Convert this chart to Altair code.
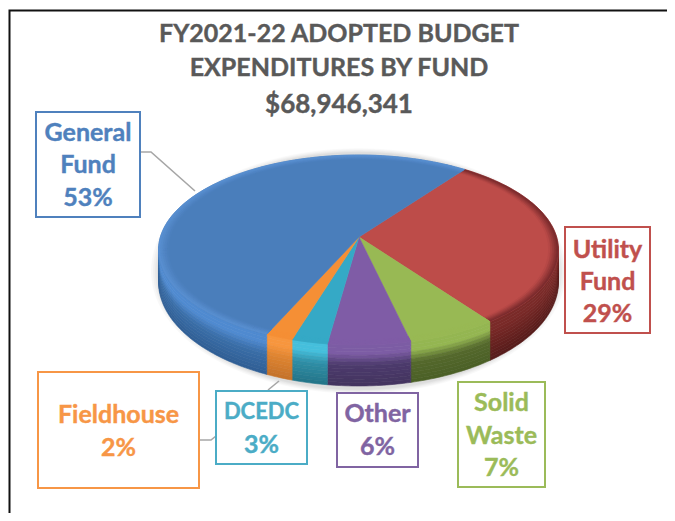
import math
import altair as alt
import pandas as pd

# ---- values
title_lines = ["FY2021-22 ADOPTED BUDGET", "EXPENDITURES BY FUND", "$68,946,341"]
funds = ["Utility Fund", "Solid Waste", "Other", "DCEDC", "Fieldhouse", "General Fund"]
label_text = [["Utility", "Fund", "29%"], ["Solid", "Waste", "7%"], ["Other", "6%"],
              ["DCEDC", "3%"], ["Fieldhouse", "2%"], ["General", "Fund", "53%"]]
# slice sizes as drawn (%), clockwise from the General/Utility boundary
slice_shares = [29.7, 7.2, 6.7, 2.9, 2.2, 51.3]

# ---- styling and layout
label_colors = ["#c0504d", "#9bbb59", "#8064a2", "#4bacc6", "#f79646", "#4f81bd"]
top_colors = ["#bd4c49", "#98b954", "#7f5ca6", "#35a9c6", "#f58f35", "#4a7ebb"]
band_colors = ["#74272a", "#98b954", "#7f5ca6", "#35a9c6", "#f58f35", "#5a90d2"]
wall_stops = [["#7a2a28", "#6d2422", "#551b1a"], ["#94b651", "#55692c", "#4a5f26"],
              ["#7c5ca4", "#4c3a6c", "#43345f"], ["#45bfdc", "#2f8ea6", "#237488"],
              ["#f7963e", "#dd8330", "#c4722a"], ["#4f8ad0", "#3a6ea8", "#2f5e94"]]
boxes = [(565, 650, 227, 333, [250, 282, 314]), (458, 545, 382, 487, [403, 436, 468]),
         (337, 418, 393, 467, [414, 447]), (216, 307, 391, 464, [412, 445]),
         (38, 199, 372, 488, [415, 448]), (36, 140, 112, 217, [133, 165, 198])]
title_y = [34, 68, 105]
leaders = [[(140, 152), (151, 152), (195, 191)], [(199, 440), (211, 440), (216, 436)],
           [(268, 390), (279, 381)]]
CX, CY, RX, RY = 358.5, 250, 200, 95
AX, AY = 359, 237          # apex of the slices (perspective)
START = 32.0


def rim(deg):
    a = math.radians(deg)
    return CX + RX * math.sin(a), CY - RY * math.cos(a)


def depth(deg):
    return 32 + 9 * max(0.0, -math.cos(math.radians(deg)))


def mix(c1, c2, t):
    a = [int(c1[i:i + 2], 16) for i in (1, 3, 5)]
    b = [int(c2[i:i + 2], 16) for i in (1, 3, 5)]
    return "#" + "".join(f"{round(p + (q - p) * t):02x}" for p, q in zip(a, b))


def ramp(stops, t):
    if t < 0.22:
        return stops[0]
    if t < 0.5:
        return mix(stops[0], stops[1], (t - 0.22) / 0.28)
    return mix(stops[1], stops[2], (t - 0.5) * 2)


rows, pid = [], 0


def add(points, color, opacity=1.0):
    global pid
    for i, (x, y) in enumerate(points):
        rows.append(dict(x=x, y=y, i=i, poly=pid, c=color, o=opacity))
    pid += 1


# soft ground shadow
for k, (grow, op) in enumerate([(1.035, .05), (1.025, .06), (1.015, .07), (1.005, .09)]):
    add([(CX + RX * grow * math.sin(math.radians(d)),
          CY + 21 + (RY + 23) * grow * -math.cos(math.radians(d))) for d in range(0, 360, 3)],
        "#808080", op)

# slice angles
edges = [START]
for s in slice_shares:
    edges.append(edges[-1] + s * 3.6)

# side walls
STRIPS = 12
for n, stops in enumerate(wall_stops):
    lo, hi = max(edges[n], 88), min(edges[n + 1], 272)
    if hi <= lo:
        continue
    steps = max(2, int(hi - lo) + 1)
    angs = [lo + (hi - lo) * j / (steps - 1) for j in range(steps)]
    for s in range(STRIPS):
        t0, t1 = s / STRIPS, (s + 1) / STRIPS
        upper = [(rim(d)[0], rim(d)[1] + depth(d) * t0) for d in angs]
        lower = [(rim(d)[0], rim(d)[1] + depth(d) * t1) for d in reversed(angs)]
        add(upper + lower, ramp(stops, (s + .5) / STRIPS))

# top face, with a narrow shaded band towards the rim
BANDS = 5
for n, color in enumerate(top_colors):
    lo, hi = edges[n], edges[n + 1]
    steps = max(2, int(hi - lo) + 1)
    arc = [rim(lo + (hi - lo) * j / (steps - 1)) for j in range(steps)]
    add([(AX, AY)] + arc, color)
    for b in range(BANDS):
        s0 = 0.95 + 0.05 * b / BANDS
        s1 = 0.95 + 0.05 * (b + 1) / BANDS
        inner = [(AX + (x - AX) * s0, AY + (y - AY) * s0) for x, y in arc]
        outer = [(AX + (x - AX) * s1, AY + (y - AY) * s1) for x, y in reversed(arc)]
        add(inner + outer, mix(color, band_colors[n], (b + .5) / BANDS))

df = pd.DataFrame(rows)
X = alt.X("x:Q", scale=alt.Scale(domain=[8, 667], nice=False, zero=False), axis=None)
Y = alt.Y("y:Q", scale=alt.Scale(domain=[513, 8], nice=False, zero=False), axis=None)

pie = alt.Chart(df).mark_line(filled=True, interpolate="linear-closed", strokeWidth=0.6).encode(
    x=X, y=Y, detail="poly:N", order="i:Q",
    fill=alt.Fill("c:N", scale=None), stroke=alt.Stroke("c:N", scale=None),
    opacity=alt.Opacity("o:Q", scale=None),
)

lead_rows = [dict(x=x, y=y, i=i, k=k) for k, l in enumerate(leaders) for i, (x, y) in enumerate(l)]
lead = alt.Chart(pd.DataFrame(lead_rows)).mark_line(color="#a6a6a6", strokeWidth=1.6).encode(
    x=X, y=Y, detail="k:N", order="i:Q")

box_df = pd.DataFrame([dict(x=b[0], x2=b[1], y=b[2], y2=b[3], c=label_colors[k], fund=funds[k])
                       for k, b in enumerate(boxes)])
rects = alt.Chart(box_df).mark_rect(fill="white", strokeWidth=2).encode(
    x=X, x2="x2:Q", y=Y, y2="y2:Q", stroke=alt.Stroke("c:N", scale=None))

txt_rows = []
for k, b in enumerate(boxes):
    for line, yy in zip(label_text[k], b[4]):
        size = 22 if line == "DCEDC" else 25
        txt_rows.append(dict(x=(b[0] + b[1]) / 2, y=yy, t=line, c=label_colors[k], s=size))
for line, yy in zip(title_lines, title_y):
    size = 26 if line.startswith("$") else 25
    txt_rows.append(dict(x=339, y=yy, t=line, c="#595959", s=size))
texts = alt.Chart(pd.DataFrame(txt_rows)).mark_text(
    font="Lato", fontWeight="bold", baseline="middle", align="center", strokeWidth=0.4).encode(
    x=X, y=Y, text="t:N", color=alt.Color("c:N", scale=None),
    stroke=alt.Stroke("c:N", scale=None), size=alt.Size("s:Q", scale=None))

frame_rows = [dict(x=9.5, y=513, i=0), dict(x=9.5, y=10.5, i=1), dict(x=667, y=10.5, i=2)]
frame = alt.Chart(pd.DataFrame(frame_rows)).mark_line(color="#111111", strokeWidth=2).encode(
    x=X, y=Y, order="i:Q")

chart = alt.layer(frame, pie, lead, rects, texts).properties(
    width=659, height=505, padding=0, autosize=alt.AutoSizeParams(type="none"),
    background="white",
).configure_view(stroke=None)

chart.save("out.html", embed_options={"renderer": "svg", "actions": False})
